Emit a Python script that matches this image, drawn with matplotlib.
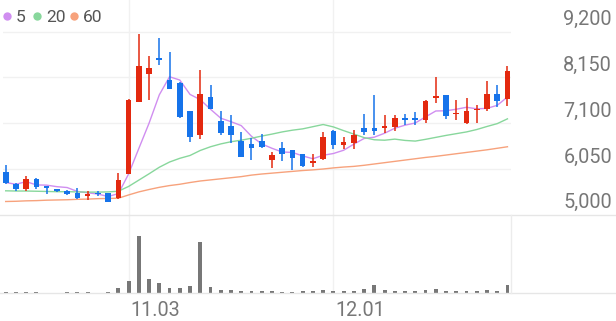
import matplotlib
matplotlib.use("Agg")
import matplotlib.pyplot as plt
import matplotlib.transforms as mtransforms
from matplotlib.lines import Line2D
import numpy as np

plt.rcParams['font.family'] = ['Roboto', 'DejaVu Sans']

# daily candles
opens = [5975, 5710, 5590, 5820, 5660, 5590, 5555, 5495, 5420, 5510,
         5495, 5390, 5940, 7590, 8235, 8600, 8080, 8020, 7380, 6840,
         7700, 7155, 7040, 6690, 6615, 6690, 6255, 6520, 6485, 6395,
         6180, 6280, 6920, 6600, 6635, 6995, 6980, 6995, 7015, 7230,
         7210, 7170, 7680, 7740, 7300, 7095, 7395, 7420, 7780, 7650]
highs = [6140, 5735, 5890, 5840, 5660, 5600, 5580, 5625, 5555, 5555,
         5495, 5950, 7650, 9150, 8630, 9050, 8730, 8045, 7380, 8325,
         7970, 7380, 7285, 6900, 6750, 6850, 6430, 6675, 6485, 6395,
         6395, 6890, 6940, 6790, 6940, 7320, 7755, 7285, 7285, 7300,
         7360, 7625, 8155, 7755, 7625, 7685, 7510, 8060, 7970, 8400]
lows = [5710, 5550, 5555, 5595, 5475, 5520, 5455, 5360, 5335, 5435,
        5290, 5365, 5930, 7590, 7625, 8440, 7880, 7220, 6675, 6735,
        7415, 6840, 6650, 6315, 6255, 6535, 6065, 6235, 6025, 6090,
        6090, 6255, 6500, 6500, 6505, 6825, 6825, 6865, 6920, 7055,
        7055, 7095, 7565, 7185, 7170, 7080, 7095, 7380, 7475, 7490]
closes = [5720, 5590, 5815, 5645, 5625, 5550, 5480, 5380, 5480, 5475,
          5290, 5800, 7630, 8410, 8370, 8540, 7880, 7245, 6775, 7765,
          7435, 6865, 6825, 6330, 6535, 6560, 6370, 6395, 6295, 6120,
          6240, 6775, 6600, 6660, 6825, 6900, 6925, 7040, 7230, 7170,
          7170, 7605, 7725, 7260, 7345, 7380, 7435, 7780, 7610, 8295]
volumes = [13, 7, 10, 10, 3, 3, 13, 7, 10, 3,
           7, 47, 124, 575, 138, 97, 50, 52, 75, 513,
           62, 32, 30, 23, 23, 17, 17, 13, 13, 20,
           17, 33, 20, 17, 20, 40, 77, 27, 17, 17,
           17, 27, 43, 20, 17, 17, 17, 27, 17, 77]

ma5 = [5740, 5700, 5760, 5685, 5680, 5645, 5625, 5535, 5505, 5475,
       5420, 5485, 5935, 6520, 7100, 7750, 8165, 8090, 7760, 7640,
       7420, 7215, 7135, 7045, 6800, 6625, 6525, 6440, 6430, 6350,
       6285, 6365, 6405, 6480, 6620, 6750, 6780, 6870, 6985, 7055,
       7105, 7245, 7380, 7385, 7420, 7465, 7430, 7440, 7510, 7700]
ma20 = [5550, 5545, 5545, 5540, 5535, 5530, 5530, 5525, 5520, 5520,
        5525, 5540, 5650, 5795, 5940, 6090, 6210, 6295, 6360, 6475,
        6560, 6625, 6675, 6710, 6755, 6805, 6850, 6900, 6940, 6970,
        7020, 7070, 7015, 6930, 6850, 6770, 6720, 6710, 6735, 6705,
        6690, 6730, 6775, 6820, 6860, 6900, 6955, 7025, 7090, 7200]
ma60 = [5305, 5310, 5320, 5325, 5335, 5340, 5345, 5355, 5360, 5370,
        5375, 5380, 5455, 5525, 5580, 5630, 5670, 5700, 5740, 5775,
        5800, 5825, 5850, 5875, 5910, 5935, 5955, 5975, 5995, 6015,
        6030, 6050, 6075, 6095, 6110, 6135, 6165, 6195, 6225, 6255,
        6285, 6315, 6340, 6370, 6400, 6430, 6460, 6490, 6525, 6560]

price_ticks = [5000, 6050, 7100, 8150, 9200]
date_pos = [12, 32]
date_text = ["11.03", "12.01"]

ma_names = ["5", "20", "60"]
ma_colors = ["#d08ef0", "#88d79c", "#f7a27c"]
up_color = "#e3290f"
down_color = "#1673ea"

W, H = 616, 321
fig = plt.figure(figsize=(W / 100, H / 100), dpi=100)

# pixel geometry
x_left, x_right = 3, 511
y_sep, y_base = 214.8, 293
px_per_won = 45.8 / 1050
step = 10.24
x0 = 5.7

ax = fig.add_axes([x_left / W, 1 - y_sep / H, (x_right - x_left) / W, y_sep / H])
axv = fig.add_axes([x_left / W, 1 - y_base / H, (x_right - x_left) / W, (y_base - y_sep) / H])

xlim = ((x_left - x0) / step, (x_right - x0) / step)
ax.set_xlim(*xlim)
axv.set_xlim(*xlim)
ax.set_ylim(5000, 5000 + y_sep / px_per_won)
axv.set_ylim(0, max(volumes) * (y_base - y_sep) / 57.5)

for a in (ax, axv):
    for s in a.spines.values():
        s.set_visible(False)
    a.set_xticks([])
    a.set_yticks([])
    for p in date_pos:
        a.axvline(p, color="#f1f1f1", lw=1.0, zorder=0)

for t in price_ticks[1:]:
    ax.axhline(t, color="#f1f1f1", lw=1.0, zorder=0)

x = np.arange(len(closes))
o = np.array(opens)
c = np.array(closes)
colors = [up_color if cc >= oo else down_color for oo, cc in zip(o, c)]

for name, vals, col in zip(ma_names, [ma5, ma20, ma60], ma_colors):
    ax.plot(x, vals, color=col, lw=1.0, zorder=2)

ax.vlines(x, lows, highs, colors=colors, lw=1.1, zorder=3)
body_bot = np.minimum(o, c)
body_h = np.maximum(np.abs(c - o), 35)
ax.bar(x, body_h, bottom=body_bot, width=0.55, color=colors, zorder=4, linewidth=0)

axv.bar(x, volumes, width=0.38, color="#777777", linewidth=0, zorder=3)

# panel separators
for yy in (y_sep, y_base):
    fig.add_artist(Line2D([0, 1], [1 - yy / H, 1 - yy / H], transform=fig.transFigure,
                          color="#e6e6e6", lw=1.0))
fig.add_artist(Line2D([x_right / W, x_right / W], [1 - y_base / H, 1 - y_sep / H],
                      transform=fig.transFigure, color="#ececec", lw=1.0))

# price labels on the right, sitting above their grid lines
trans = mtransforms.offset_copy(
    mtransforms.blended_transform_factory(fig.transFigure, ax.transData),
    fig=fig, x=0, y=6.5, units='dots')
for t in price_ticks:
    ax.text(612 / W, t, f"{t:,}", transform=trans, ha="right", va="baseline",
            fontsize=14.3, color="#777777")

# date labels
dtrans = mtransforms.offset_copy(
    mtransforms.blended_transform_factory(axv.transData, fig.transFigure),
    fig=fig, x=2, y=0, units='dots')
for p, s in zip(date_pos, date_text):
    axv.text(p, 1 - 316.5 / H, s, transform=dtrans, ha="left", va="baseline",
             fontsize=14.3, color="#777777")

# legend
lx = [6.7, 37.3, 74]
for px, name, col in zip(lx, ma_names, ma_colors):
    fig.add_artist(Line2D([px / W], [1 - 15.7 / H], marker="o", ms=6, color=col,
                          markeredgewidth=0, transform=fig.transFigure))
    fig.text((px + 9) / W, 1 - 21.7 / H, name, ha="left", va="baseline",
             fontsize=12.5, color="#555555")

fig.savefig("out.png", dpi=100)
